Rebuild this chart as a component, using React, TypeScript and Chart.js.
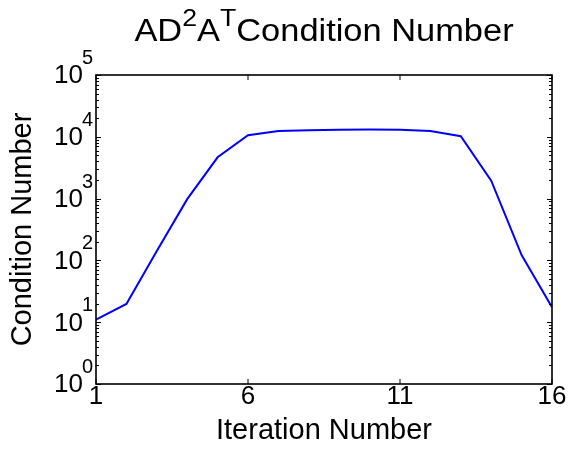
import React, { useEffect, useRef } from 'react';
import { Chart, registerables } from 'chart.js';

Chart.register(...registerables);

const iterations = [1, 2, 3, 4, 5, 6, 7, 8, 9, 10, 11, 12, 13, 14, 15, 16];
const conditionNumbers = [11, 19.7, 142, 980, 4660, 10600, 12400, 12800, 13000, 13100, 13000, 12400, 10200, 1950, 122, 17.4];
const xTickValues = [1, 6, 11, 16];
const yDecadeExponents = [0, 1, 2, 3, 4, 5];
const titleParts = [
  { text: 'AD', sup: false },
  { text: '2', sup: true },
  { text: 'A', sup: false },
  { text: 'T', sup: true },
  { text: 'Condition Number', sup: false },
];
const xAxisTitle = 'Iteration Number';
const yAxisTitle = 'Condition Number';

const FONT = '"Liberation Sans", Arial, Helvetica, sans-serif';

const matlabPlugin = {
  id: 'matlabAxes',
  afterDatasetsDraw(chart: any) {
    const { ctx, chartArea, scales } = chart;
    const { left, right, top, bottom } = chartArea;
    const x = scales.x;
    const y = scales.y;
    ctx.save();
    // tick marks (inward, MATLAB style)
    ctx.strokeStyle = '#000';
    ctx.lineWidth = 1;
    ctx.beginPath();
    for (const v of xTickValues) {
      const px = x.getPixelForValue(v);
      ctx.moveTo(px, bottom);
      ctx.lineTo(px, bottom - 5);
      ctx.moveTo(px, top);
      ctx.lineTo(px, top + 5);
    }
    for (const e of yDecadeExponents) {
      for (let m = 1; m <= 9; m++) {
        if (e === yDecadeExponents[yDecadeExponents.length - 1] && m > 1) break;
        const v = m * Math.pow(10, e);
        const py = Math.round(y.getPixelForValue(v)) + 0.5;
        const len = m === 1 ? 5 : 3;
        ctx.moveTo(left, py);
        ctx.lineTo(left + len, py);
        ctx.moveTo(right, py);
        ctx.lineTo(right - len, py);
      }
    }
    ctx.stroke();
    // box
    ctx.lineWidth = 1.6;
    ctx.strokeRect(left, top, right - left, bottom - top);

    // y tick labels 10^n
    ctx.fillStyle = '#000';
    ctx.textBaseline = 'alphabetic';
    for (const e of yDecadeExponents) {
      const py = y.getPixelForValue(Math.pow(10, e));
      ctx.font = `26px ${FONT}`;
      ctx.textAlign = 'right';
      ctx.fillText('10', left - 13, py + 8.3);
      ctx.font = `20px ${FONT}`;
      ctx.textAlign = 'left';
      ctx.fillText(String(e), left - 14, py - 11);
    }

    // title with superscripts
    const mainFont = `31px ${FONT}`;
    const supFont = `24px ${FONT}`;
    let total = 0;
    const widths = titleParts.map((p) => {
      ctx.font = p.sup ? supFont : mainFont;
      const w = ctx.measureText(p.text).width;
      total += w;
      return w;
    });
    const sx = 1.11;
    ctx.translate((left + right) / 2, 0);
    ctx.scale(sx, 1);
    let cx = -total / 2;
    ctx.textAlign = 'left';
    titleParts.forEach((p, i) => {
      ctx.font = p.sup ? supFont : mainFont;
      ctx.fillText(p.text, cx, p.sup ? 26 : 41);
      cx += widths[i];
    });
    ctx.restore();
  },
};

export default function App() {
  const canvasRef = useRef<HTMLCanvasElement | null>(null);

  useEffect(() => {
    const canvas = canvasRef.current;
    if (!canvas) return;
    const chart = new Chart(canvas, {
      type: 'line',
      data: {
        datasets: [
          {
            data: iterations.map((it, i) => ({ x: it, y: conditionNumbers[i] })),
            borderColor: '#0000ff',
            backgroundColor: '#0000ff',
            borderWidth: 2,
            pointRadius: 0,
            tension: 0,
            fill: false,
          },
        ],
      },
      options: {
        animation: false,
        responsive: false,
        devicePixelRatio: 1,
        layout: { padding: { top: 75, right: 19, bottom: 0, left: 0 } },
        plugins: {
          legend: { display: false },
          tooltip: { enabled: false },
          title: { display: false },
        },
        scales: {
          x: {
            type: 'linear',
            min: 1,
            max: 16,
            afterBuildTicks: (s: any) => {
              s.ticks = xTickValues.map((v) => ({ value: v }));
            },
            grid: { display: false, drawTicks: false },
            border: { display: false },
            ticks: {
              font: { family: FONT, size: 26, lineHeight: 1 },
              color: '#000',
              padding: 0,
              maxRotation: 0,
              autoSkip: false,
            },
            title: {
              display: true,
              text: xAxisTitle,
              font: { family: FONT, size: 29, lineHeight: 1 },
              color: '#000',
              padding: { top: 0, bottom: 6 },
            },
            afterFit: (s: any) => {
              s.height = 67;
              s.paddingLeft = 0;
              s.paddingRight = 0;
            },
          },
          y: {
            type: 'logarithmic',
            min: 1,
            max: 100000,
            grid: { display: false, drawTicks: false },
            border: { display: false },
            ticks: { display: false },
            title: {
              display: true,
              text: yAxisTitle,
              font: { family: FONT, size: 29, lineHeight: 1 },
              color: '#000',
              padding: { top: 8, bottom: 0 },
            },
            afterFit: (s: any) => {
              s.width = 96;
              s.paddingTop = 0;
              s.paddingBottom = 0;
            },
          },
        },
      } as any,
      plugins: [matlabPlugin],
    });
    return () => chart.destroy();
  }, []);

  return (
    <div style={{ position: 'fixed', left: 0, top: 0, width: 571, height: 451, background: '#fff' }}>
      <canvas ref={canvasRef} width={571} height={451} style={{ display: 'block' }} />
    </div>
  );
}
